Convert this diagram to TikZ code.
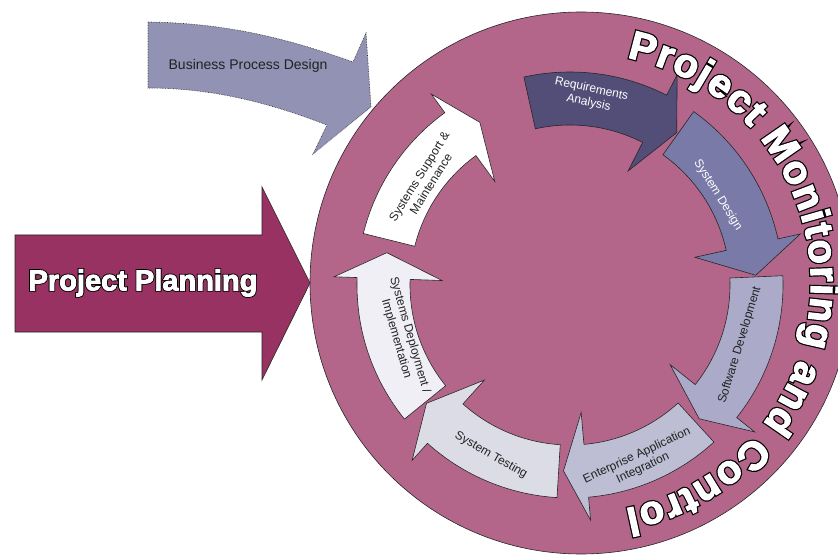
\documentclass[tikz,border=0pt]{standalone}
\usepackage{fontspec}
\setmainfont{Liberation Sans}
\newfontfamily\rimfont{Liberation Sans Bold}[FakeBold=9]
\newfontfamily\facefont{Liberation Sans Bold}[FakeBold=3]
\usetikzlibrary{calc, decorations.text}
\tikzset{>=stealth}
\definecolor{ringfill}{HTML}{B3668A}
\definecolor{planfill}{HTML}{973262}
\definecolor{bpdfill}{HTML}{9292B4}
\definecolor{reqfill}{HTML}{524E78}
\definecolor{sdfill}{HTML}{7A7AA8}
\definecolor{swdfill}{HTML}{ABABC9}
\definecolor{eaifill}{HTML}{BDBDD3}
\definecolor{stfill}{HTML}{DCDCE7}
\definecolor{sdifill}{HTML}{EFEFF5}
\definecolor{labeltext}{HTML}{222222}
\tikzset{
  outline/.style={draw=black!85, line width=0.6pt, line join=miter},
  steplabel/.style={font=\fontsize{12}{14}\selectfont, align=center, text=labeltext, inner sep=0pt},
}
% one arrow of the cycle: fill, tail angle, head base angle, tip angle
\newcommand{\cyclearrow}[4]{
  \draw[outline, fill=#1, shift={(O)}] (#2:213) arc[start angle=#2, end angle=#3, radius=213]
    -- (#3:236) -- (#4:186) -- (#3:128) -- (#3:160)
    arc[start angle=#3, end angle=#2, radius=160] -- cycle;
}
% white letters with a black rim
\newcommand{\rimtext}[1]{\rlap{\color{black}\rimfont #1}{\color{white}\facefont #1}}

\begin{document}
\begin{tikzpicture}[x=1pt, y=1pt]
    \useasboundingbox (0,0) rectangle (838,555);
    \coordinate (M) at (581,272);
    \coordinate (O) at (570,270);
    % big circle
    \draw[outline, fill=ringfill] (M) circle[radius=271];
    % input arrows
    \draw[outline, fill=planfill] (15,320) -- (262,320) -- (262,368) -- (310,272)
        -- (262,175) -- (262,223) -- (15,223) -- cycle;
    \node[font=\fontsize{29}{29}\selectfont] (plan) at (143,272) {\rimtext{Project Planning}};
    \draw[outline, densely dotted, fill=bpdfill] (148,533) .. controls (235,532) and (300,512) .. (353,493)
        -- (366,522) -- (371,448) -- (313,401) -- (327,430)
        .. controls (280,448) and (220,467) .. (148,467) -- cycle;
    \node[font=\fontsize{14}{16}\selectfont, text=labeltext] (bpd) at (248,489) {Business Process Design};
    % cycle
    \cyclearrow{reqfill}{102.5}{63}{55}
    \cyclearrow{sdfill}{54.5}{12.5}{3}
    \cyclearrow{swdfill}{2.5}{-38.5}{-46}
    \cyclearrow{eaifill}{-47.5}{-85}{-92}
    \cyclearrow{stfill}{-93.5}{-132}{-140.5}
    \cyclearrow{sdifill}{-141}{-182}{-190}
    \cyclearrow{white}{-194}{-234}{-241}
    \node[steplabel, text=white, rotate=-12] (req) at (590,459) {Requirements\\Analysis};
    \node[steplabel, text=white, rotate=-58] (sd) at (718,360) {System Design};
    \node[steplabel, rotate=73] (swd) at (740,210) {Software Development};
    \node[steplabel, rotate=25] (eai) at (640,93) {Enterprise Application\\Integration};
    \node[steplabel, rotate=-30] (st) at (491,100) {System Testing};
    \node[steplabel, rotate=-74] (sdi) at (403,218) {Systems Deployment /\\Implementation};
    \node[steplabel, rotate=58] (ssm) at (425,375) {Systems Support \&\\Maintenance};
    % title round the circle, rim first
    \path[decorate, decoration={text along path, text color=black, text align=fit to path,
        text={|\fontsize{40}{40}\selectfont\rimfont|Project Monitoring and Control}}]
        ($(M)+(78.5:230)$) arc[start angle=78.5, end angle=-79, radius=230];
    \path[decorate, decoration={text along path, text color=white, text align=fit to path,
        text={|\fontsize{40}{40}\selectfont\facefont|Project Monitoring and Control}}]
        ($(M)+(78.5:230)$) arc[start angle=78.5, end angle=-79, radius=230];
\end{tikzpicture}
\end{document}
